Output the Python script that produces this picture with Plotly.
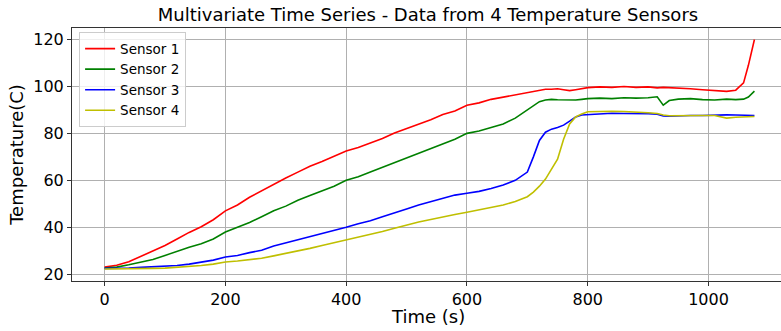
import plotly.graph_objects as go

time_s = [0, 20, 40, 60, 80, 100, 120, 140, 160, 180, 200, 220, 240, 260, 280, 300,
          320, 340, 360, 380, 400, 420, 440, 460, 480, 500, 520, 540, 560, 580, 600,
          620, 640, 660, 680, 700,
          710, 720, 730, 740, 750, 760, 770, 780, 790, 800,
          820, 840, 860, 880, 900,
          915, 925, 935, 950, 970, 990, 1010, 1030, 1045, 1058, 1066, 1076]

sensor1 = [23.0, 23.8, 25.3, 27.5, 30.0, 32.2, 35.0, 37.8, 40.2, 43.2, 47.0, 49.5, 52.8, 55.5, 58.5, 61.0,
           63.5, 66.0, 68.0, 70.2, 72.5, 74.0, 76.0, 77.8, 80.2, 82.0, 83.8, 85.8, 88.0, 89.5, 92.0,
           93.0, 94.5, 95.5, 96.5, 97.5,
           97.8, 98.3, 98.8, 98.8, 99.0, 98.6, 98.2, 98.6, 99.2, 99.5,
           99.8, 99.6, 100.0, 99.6, 99.8,
           99.4, 99.6, 99.5, 99.2, 99.0, 98.6, 98.4, 97.9, 98.4, 101.5, 109.0, 120.0]

sensor2 = [22.6, 23.0, 24.0, 25.0, 26.3, 28.0, 29.8, 31.5, 33.0, 35.0, 38.0, 40.0, 42.0, 44.5, 47.0, 49.0,
           51.5, 53.5, 55.5, 57.5, 60.0, 61.5, 63.5, 65.5, 67.5, 69.5, 71.5, 73.5, 75.5, 77.5, 80.0,
           81.0, 82.5, 84.0, 86.5, 90.0,
           92.0, 93.5, 94.2, 94.5, 94.3, 94.2, 94.0, 94.2, 94.5, 94.8,
           95.0, 94.8, 95.2, 95.0, 95.2,
           95.6, 92.0, 94.0, 94.6, 94.8, 94.4, 94.2, 94.6, 94.4, 94.6, 95.5, 98.0]

sensor3 = [22.5, 22.5, 22.6, 22.9, 23.1, 23.3, 23.7, 24.3, 25.0, 26.0, 27.3, 28.0, 29.2, 30.2, 32.0, 33.3,
           34.8, 36.2, 37.5, 38.8, 40.0, 41.5, 42.8, 44.5, 46.0, 47.8, 49.5, 51.0, 52.5, 53.7, 54.5,
           55.3, 56.5, 58.0, 60.0, 63.5,
           70.0, 77.0, 80.5, 81.8, 82.5, 83.5, 85.2, 87.0, 87.8, 88.0,
           88.4, 88.6, 88.5, 88.6, 88.4,
           88.2, 87.4, 87.3, 87.5, 87.6, 87.6, 87.8, 87.9, 87.8, 87.6, 87.6, 87.6]

sensor4 = [22.2, 22.2, 22.3, 22.4, 22.5, 22.6, 22.9, 23.2, 23.7, 24.3, 25.2, 25.6, 26.2, 26.8, 27.8, 28.8,
           29.8, 31.0, 32.2, 33.4, 34.4, 35.7, 37.0, 38.2, 39.6, 41.0, 42.2, 43.3, 44.5, 45.4, 46.4,
           47.4, 48.3, 49.5, 51.0, 53.0,
           55.0, 57.5, 60.5, 64.5, 69.0, 77.5, 84.0, 87.0, 88.3, 89.2,
           89.4, 89.4, 89.3, 89.2, 88.8,
           88.5, 87.8, 87.5, 87.6, 87.5, 87.6, 87.6, 86.5, 86.9, 87.1, 87.2, 87.2]

names = ["Sensor 1", "Sensor 2", "Sensor 3", "Sensor 4"]
colors = ["#ff0000", "#008000", "#0000ff", "#bfbf00"]
series = [sensor1, sensor2, sensor3, sensor4]

fig = go.Figure()
for name, color, vals in zip(names, colors, series):
    fig.add_trace(go.Scatter(x=time_s, y=vals, mode="lines", name=name,
                             line=dict(color=color, width=1.6)))

font_family = "DejaVu Sans"
fig.update_layout(
    width=781, height=331,
    margin=dict(l=72, r=0, t=28, b=50),
    paper_bgcolor="white", plot_bgcolor="white",
    font=dict(family=font_family, color="black", size=15),
    title=dict(text="Multivariate Time Series - Data from 4 Temperature Sensors",
               x=428 / 781, xanchor="center", y=1 - 15 / 331, yanchor="middle",
               font=dict(size=18, family=font_family, color="black")),
    legend=dict(x=0.01, y=0.983, xanchor="left", yanchor="top",
                bgcolor="rgba(255,255,255,0.8)", bordercolor="#cccccc", borderwidth=1,
                font=dict(size=13.5, family=font_family, color="black"),
                tracegroupgap=0),
    showlegend=True,
    annotations=[dict(text="Time (s)", xref="paper", yref="paper",
                      x=(428 - 72) / 709, y=-(316 - 281) / 253,
                      xanchor="center", yanchor="middle", showarrow=False,
                      font=dict(size=18, family=font_family, color="black"))],
)
fig.update_xaxes(range=[-54, 1120], tickvals=[0, 200, 400, 600, 800, 1000],
                 showgrid=True, gridcolor="#b0b0b0", gridwidth=0.8,
                 showline=True, linecolor="#333333", linewidth=1, mirror=True,
                 ticks="outside", ticklen=4, tickcolor="#333333",
                 tickfont=dict(size=16), zeroline=False)
fig.update_yaxes(range=[17.1, 124.9], tickvals=[20, 40, 60, 80, 100, 120],
                 showgrid=True, gridcolor="#b0b0b0", gridwidth=0.8,
                 showline=True, linecolor="#333333", linewidth=1,
                 ticks="outside", ticklen=4, tickcolor="#333333",
                 tickfont=dict(size=16), zeroline=False,
                 title=dict(text="Temperature(C)", font=dict(size=18), standoff=4))

fig.write_html("out.html")
